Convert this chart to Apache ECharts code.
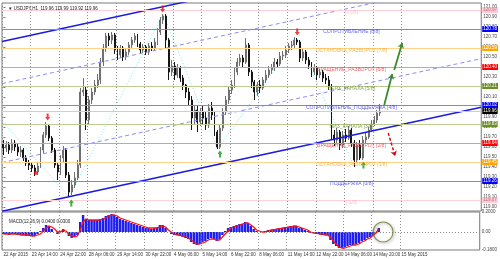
<!DOCTYPE html>
<html><head><meta charset="utf-8">
<script src="https://cdn.jsdelivr.net/npm/echarts@6/dist/echarts.min.js"></script>
<style>html,body{margin:0;padding:0;background:#fff}#c{width:500px;height:259px}</style>
</head><body><div id="c"></div><script>
// ---------------- DATA ----------------
const headerText = '\u25BC USDJPY,H1  119.96 119.99 119.92 119.96';
const macdTitle = 'MACD(12,26,9) 0.0400 0.0300';
const slotCount = 168; // bar slots incl. empty space on the right (chart shift)
// [open, close, low, high]
const candles = [
[119.63,119.59,119.52,119.67],[119.59,119.62,119.55,119.66],[119.62,119.57,119.53,119.65],[119.57,119.64,119.54,119.68],[119.64,119.60,119.56,119.67],
[119.60,119.55,119.51,119.63],[119.55,119.57,119.50,119.61],[119.57,119.49,119.46,119.59],[119.49,119.44,119.41,119.52],[119.44,119.42,119.37,119.47],
[119.42,119.39,119.35,119.45],[119.39,119.35,119.31,119.42],[119.35,119.41,119.32,119.45],[119.41,119.57,119.39,119.60],[119.57,119.72,119.54,119.75],
[119.72,119.81,119.69,119.85],[119.81,119.69,119.66,119.83],[119.69,119.57,119.54,119.71],[119.57,119.42,119.39,119.59],[119.42,119.35,119.27,119.45],
[119.35,119.49,119.32,119.52],[119.49,119.57,119.45,119.61],[119.57,119.32,119.29,119.59],[119.32,119.15,119.10,119.35],[119.15,119.22,119.12,119.27],
[119.22,119.29,119.19,119.35],[119.29,119.42,119.27,119.47],[119.42,120.15,119.39,120.19],[120.15,120.17,120.11,120.29],[120.17,119.87,119.77,120.21],
[119.87,120.07,119.83,120.11],[120.07,120.15,120.03,120.19],[120.15,120.22,120.12,120.27],[120.22,120.27,120.19,120.33],[120.27,120.45,120.23,120.49],
[120.45,120.59,120.41,120.63],[120.59,120.71,120.55,120.74],[120.71,120.67,120.61,120.74],[120.67,120.72,120.63,120.75],[120.72,120.57,120.53,120.74],
[120.57,120.52,120.47,120.61],[120.52,120.59,120.49,120.62],[120.59,120.50,120.46,120.61],[120.50,120.55,120.47,120.59],[120.55,120.62,120.52,120.65],
[120.62,120.67,120.59,120.70],[120.67,120.71,120.64,120.74],[120.71,120.63,120.60,120.73],[120.63,120.57,120.53,120.65],[120.57,120.60,120.54,120.63],
[120.60,120.55,120.52,120.62],[120.55,120.61,120.52,120.64],[120.61,120.59,120.56,120.65],[120.59,120.65,120.57,120.69],[120.65,120.75,120.62,120.79],
[120.75,120.87,120.72,120.90],[120.87,120.91,120.83,120.93],[120.91,120.67,120.59,120.93],[120.67,120.35,120.27,120.69],[120.35,120.41,120.31,120.47],
[120.41,120.32,120.27,120.45],[120.32,120.39,120.29,120.43],[120.39,120.29,120.25,120.41],[120.29,120.22,120.17,120.32],[120.22,120.15,120.09,120.23],
[120.15,120.07,120.01,120.19],[120.07,119.89,119.77,120.11],[119.89,119.97,119.83,120.02],[119.97,119.85,119.75,120.01],[119.85,119.95,119.81,119.99],
[119.95,119.89,119.83,120.01],[119.89,119.82,119.77,119.95],[119.82,119.99,119.79,120.03],[119.99,119.92,119.87,120.05],[119.92,119.75,119.71,119.95],
[119.75,119.60,119.58,119.77],[119.60,119.79,119.58,119.83],[119.79,119.95,119.76,119.99],[119.95,120.07,119.92,120.11],[120.07,120.17,120.03,120.21],
[120.17,120.22,120.13,120.27],[120.22,120.35,120.19,120.39],[120.35,120.45,120.32,120.49],[120.45,120.49,120.41,120.53],[120.49,120.45,120.39,120.52],
[120.45,120.62,120.43,120.69],[120.62,120.35,120.31,120.64],[120.35,120.25,120.19,120.37],[120.25,120.15,120.07,120.27],[120.15,120.22,120.11,120.25],
[120.22,120.19,120.14,120.27],[120.19,120.27,120.17,120.30],[120.27,120.32,120.24,120.37],[120.32,120.37,120.29,120.41],[120.37,120.39,120.33,120.43],
[120.39,120.45,120.36,120.49],[120.45,120.43,120.39,120.48],[120.43,120.51,120.41,120.55],[120.51,120.52,120.47,120.56],[120.52,120.57,120.49,120.61],
[120.57,120.61,120.54,120.64],[120.61,120.62,120.57,120.66],[120.62,120.67,120.59,120.70],[120.67,120.65,120.62,120.69],[120.65,120.49,120.45,120.67],
[120.49,120.55,120.46,120.58],[120.55,120.47,120.43,120.57],[120.47,120.42,120.38,120.50],[120.42,120.35,120.30,120.45],[120.35,120.39,120.32,120.43],
[120.39,120.32,120.27,120.41],[120.32,120.35,120.29,120.38],[120.35,120.29,120.25,120.37],[120.29,120.27,120.23,120.33],[120.27,120.21,120.17,120.31],
[120.21,119.72,119.67,120.23],[119.72,119.67,119.61,119.77],[119.67,119.75,119.64,119.79],[119.75,119.62,119.57,119.77],[119.62,119.72,119.59,119.76],
[119.72,119.69,119.65,119.78],[119.69,119.77,119.67,119.81],[119.77,119.64,119.60,119.79],[119.64,119.47,119.40,119.67],[119.47,119.62,119.45,119.65],
[119.62,119.49,119.47,119.67],[119.49,119.67,119.47,119.71],[119.67,119.70,119.64,119.75],[119.70,119.77,119.68,119.80],[119.77,119.83,119.75,119.87],
[119.83,119.87,119.81,119.91],[119.87,119.94,119.84,119.97],[119.94,119.96,119.91,120.03]
];
const macdMain = [
-0.02,-0.02,-0.03,-0.02,-0.02,-0.03,-0.03,-0.03,-0.04,-0.04,
-0.04,-0.04,-0.02,0.01,0.04,0.07,0.06,0.03,0.00,-0.02,
0.01,0.03,0.00,-0.04,-0.06,-0.05,-0.03,0.10,0.17,0.13,
0.12,0.12,0.12,0.12,0.13,0.14,0.16,0.17,0.18,0.17,
0.15,0.13,0.12,0.11,0.10,0.09,0.08,0.07,0.06,0.05,
0.04,0.04,0.03,0.04,0.05,0.07,0.07,0.04,0.00,-0.02,
-0.03,-0.03,-0.04,-0.05,-0.06,-0.07,-0.10,-0.12,-0.13,-0.12,
-0.10,-0.09,-0.07,-0.06,-0.07,-0.09,-0.07,-0.03,0.01,0.04,
0.05,0.06,0.07,0.08,0.08,0.10,0.09,0.06,0.03,0.01,
0.00,0.00,0.01,0.02,0.02,0.03,0.03,0.04,0.04,0.05,
0.05,0.06,0.06,0.06,0.04,0.04,0.02,0.01,-0.01,-0.01,
-0.02,-0.02,-0.03,-0.03,-0.03,-0.08,-0.12,-0.14,-0.16,-0.16,
-0.15,-0.14,-0.13,-0.13,-0.12,-0.11,-0.09,-0.08,-0.06,-0.05,
-0.04,0.00,0.04
];
const macdSignal = [
-0.02,-0.02,-0.02,-0.02,-0.02,-0.02,-0.03,-0.03,-0.03,-0.03,
-0.04,-0.04,-0.03,-0.02,0.01,0.04,0.06,0.05,0.03,0.00,
0.00,0.02,0.01,-0.02,-0.04,-0.05,-0.04,0.02,0.10,0.13,
0.12,0.12,0.12,0.12,0.12,0.13,0.14,0.16,0.17,0.17,
0.16,0.14,0.13,0.12,0.11,0.10,0.09,0.08,0.07,0.06,
0.05,0.04,0.04,0.04,0.04,0.05,0.06,0.05,0.02,0.00,
-0.02,-0.03,-0.03,-0.04,-0.05,-0.06,-0.08,-0.10,-0.12,-0.12,
-0.11,-0.10,-0.08,-0.07,-0.07,-0.08,-0.08,-0.05,-0.02,0.01,
0.04,0.05,0.06,0.07,0.08,0.09,0.09,0.07,0.05,0.02,
0.01,0.00,0.00,0.01,0.02,0.02,0.03,0.03,0.04,0.04,
0.05,0.05,0.06,0.06,0.05,0.04,0.03,0.02,0.00,-0.01,
-0.01,-0.02,-0.02,-0.03,-0.03,-0.05,-0.09,-0.12,-0.15,-0.16,
-0.16,-0.15,-0.14,-0.13,-0.13,-0.12,-0.10,-0.09,-0.07,-0.06,
-0.03,-0.01,0.03
];
const timeLabels = ['22 Apr 2015','23 Apr 14:00','24 Apr 22:00','28 Apr 06:00','29 Apr 14:00','30 Apr 22:00','4 May 06:00','5 May 14:00','6 May 22:00','8 May 06:00','11 May 14:00','12 May 22:00','14 May 06:00','14 May 20:00','15 May 2015'];
const levelNames = ['[+1/8]','СОПРОТИВЛЕНИЕ [8/8]','ОСТАНОВКА_РАЗВОРОТ [7/8]','ВРАЩЕНИЕ_РАЗВОРОТ [6/8]','ВЕРХ_КАНАЛА [5/8]','СОПРОТИВЛЕНИЕ_ПОДДЕРЖКА [4/8]','НИЗ_КАНАЛА [3/8]','ВРАЩЕНИЕ_РАЗВОРОТ [2/8]','ОСТАНОВКА_РАЗВОРОТ [1/8]','ПОДДЕРЖКА [0/8]','[-1/8]'];
const levelValues = [120.97,120.78,120.59,120.40,120.21,120.02,119.83,119.64,119.45,119.26,119.07];
const levelTextSlot = 122;
const currentPrice = 119.96;
const macdRange = [-0.18, 0.20];
const priceRange = [118.96, 121.04];
// trend channel lines [slot, price]
const channelSolid = [ [[-0.5,120.654],[70,121.09]], [[-0.5,118.957],[167.5,119.998]] ];
const channelDashed = [ [[-0.5,120.234],[140,121.104]], [[-0.5,119.444],[167.5,120.484]] ];
const zigzag = [[-0.5,119.86],[23,119.10],[56,120.93],[75,119.58],[103,120.69],[123,119.40]];
const sellArrows = [[15.5,119.90],[55.8,120.98],[103,120.75]];
const buyArrows = [[23.8,119.04],[75.9,119.53],[126.2,119.42]];
const sellDot = [[11.3,119.34]];
const upProjections = [ [[133.5,120.02],[136.3,120.33]], [[137.0,120.37],[139.8,120.64]] ];
const downProjection = [[134.9,119.74],[137.3,119.51]];
const macdCircle = [[133.5,0.0]];

// ---------------- STYLES ----------------
const levelLineColors = ['#ffd0d8','#8080ff','#ffd48a','#f49090','#bccb92','#8080ff','#bccb92','#f49090','#ffd48a','#8080ff','#ffd0d8'];
const levelBoxColors  = ['#ffc8d2','#0000ff','#ffa500','#ff0000','#6b8e23','#0000ff','#6b8e23','#ff0000','#ffa500','#0000ff','#ffc8d2'];
const levelBoxText    = ['#b07080','#fff','#fff','#fff','#fff','#fff','#fff','#fff','#fff','#fff','#b07080'];
const levelTextColors = ['#ffb0c0','#3c3ce6','#f5a623','#ee3b3b','#6b8e23','#3c3ce6','#6b8e23','#ee3b3b','#f5a623','#3c3ce6','#ffb0c0'];
const FONT = 'Liberation Sans';

const slots = [];
for (let i = 0; i < slotCount; i++) slots.push(String(i));
const gridLineFn = (idx) => idx % 10 === 0 && idx <= 140;

const levelMarks = levelValues.map((v, k) => ({
  yAxis: v,
  lineStyle: {color: levelLineColors[k], width: 1, type: 'solid'},
  label: {show: true, position: 'end', distance: 1, formatter: v.toFixed(2),
    backgroundColor: levelBoxColors[k], color: levelBoxText[k], fontSize: 4.5, fontFamily: FONT, padding: [1, 1, 0, 1]}
}));
levelMarks.push({
  yAxis: currentPrice,
  lineStyle: {color: '#f3c2b4', width: 1, type: 'solid'},
  label: {show: true, position: 'end', distance: 1, formatter: currentPrice.toFixed(2),
    backgroundColor: '#000', color: '#fff', fontSize: 4.5, fontFamily: FONT, padding: [1, 1, 0, 1]}
});

const series = [];
series.push({
  type: 'candlestick', xAxisIndex: 0, yAxisIndex: 0, data: candles, barMaxWidth: 2,
  itemStyle: {color: '#b8b8b8', color0: '#151515', borderColor: '#707070', borderColor0: '#151515', borderWidth: 1},
  markLine: {silent: true, symbol: ['none', 'none'], data: levelMarks, animation: false}
});
channelSolid.forEach(seg => series.push({type: 'line', xAxisIndex: 1, yAxisIndex: 0, data: seg, symbol: 'none', silent: true, clip: true,
  lineStyle: {color: '#1a1ae6', width: 1.5}, z: 3}));
channelDashed.forEach(seg => series.push({type: 'line', xAxisIndex: 1, yAxisIndex: 0, data: seg, symbol: 'none', silent: true, clip: true,
  lineStyle: {color: '#8c8cf5', width: 1, type: [4, 3]}, z: 3}));
series.push({type: 'line', xAxisIndex: 1, yAxisIndex: 0, data: zigzag, symbol: 'none', silent: true, clip: true,
  lineStyle: {color: '#7fe6e6', width: 1, type: [1, 2]}, z: 2});
series.push({type: 'scatter', xAxisIndex: 1, yAxisIndex: 0, data: sellArrows, symbol: 'path://M3,0H7V6H10L5,12L0,6H3Z', symbolSize: [5, 7],
  itemStyle: {color: '#e81010'}, z: 6, silent: true});
series.push({type: 'scatter', xAxisIndex: 1, yAxisIndex: 0, data: buyArrows, symbol: 'path://M5,0L10,6H7V12H3V6H0Z', symbolSize: [5, 7],
  itemStyle: {color: '#139a13'}, z: 6, silent: true});
series.push({type: 'scatter', xAxisIndex: 1, yAxisIndex: 0, data: sellDot, symbol: 'circle', symbolSize: 4,
  itemStyle: {color: '#e81010'}, z: 6, silent: true});
// projections
series.push({type: 'line', xAxisIndex: 1, yAxisIndex: 0, data: [], silent: true,
  markLine: {silent: true, animation: false, symbol: ['none', 'arrow'], symbolSize: 5,
    data: upProjections.map(s => [{coord: s[0], lineStyle: {color: '#3a8a2a', width: 1.8, type: 'solid'}}, {coord: s[1]}])
      .concat([[{coord: downProjection[0], lineStyle: {color: '#d01010', width: 1.5, type: [3, 2]}}, {coord: downProjection[1]}]]),
    label: {show: false}}});
// level texts
series.push({type: 'scatter', xAxisIndex: 1, yAxisIndex: 0, symbolSize: 0, silent: true, z: 7,
  data: levelValues.map((v, k) => ({value: [levelTextSlot, v], name: levelNames[k],
    label: {show: true, position: 'inside', offset: [0, 3], formatter: '{b}', color: levelTextColors[k], fontSize: 5, fontFamily: FONT}}))});
// MACD
series.push({type: 'bar', xAxisIndex: 2, yAxisIndex: 1, data: macdMain, barCategoryGap: '15%',
  itemStyle: {color: '#1e1ef0'}, silent: true,
  markLine: {silent: true, symbol: ['none', 'none'], animation: false, label: {show: false},
    data: [{yAxis: 0, lineStyle: {color: '#8a8a8a', width: 1, type: [1, 2]}}]}});
series.push({type: 'line', xAxisIndex: 2, yAxisIndex: 1, data: macdSignal, symbol: 'none', silent: true,
  lineStyle: {color: '#ff1010', width: 1.3}, z: 4});
series.push({type: 'scatter', xAxisIndex: 3, yAxisIndex: 1, data: macdCircle, symbol: 'circle', symbolSize: 20, silent: true, z: 8,
  itemStyle: {color: 'rgba(255,255,255,0)', borderColor: '#6f7f33', borderWidth: 1.2, shadowBlur: 3, shadowColor: 'rgba(0,0,0,0.45)', shadowOffsetX: 1, shadowOffsetY: 1}});

const splitStyle = {show: true, interval: gridLineFn, lineStyle: {color: '#8f8f8f', width: 1, type: [1, 2]}};

const option = {
  animation: false,
  backgroundColor: '#ffffff',
  textStyle: {fontFamily: FONT},
  title: [
    {text: headerText, left: 3, top: 1, textStyle: {fontSize: 4.5, fontWeight: 'normal', color: '#222', fontFamily: FONT}},
    {text: macdTitle, left: 4, top: 214, textStyle: {fontSize: 4.5, fontWeight: 'normal', color: '#222', fontFamily: FONT}}
  ],
  grid: [
    {left: 2, top: 3, width: 484, height: 208, show: true, borderColor: '#7a7a7a', borderWidth: 1, containLabel: false},
    {left: 2, top: 212, width: 484, height: 38, show: true, borderColor: '#7a7a7a', borderWidth: 1, containLabel: false}
  ],
  xAxis: [
    {type: 'category', gridIndex: 0, data: slots, boundaryGap: true, axisLine: {show: false}, axisTick: {show: false},
      axisLabel: {show: false}, splitLine: splitStyle},
    {type: 'value', gridIndex: 0, min: -0.5, max: slotCount - 0.5, show: false},
    {type: 'category', gridIndex: 1, data: slots, boundaryGap: true, axisLine: {show: false}, axisTick: {show: false},
      axisLabel: {show: true, interval: gridLineFn, formatter: (v, idx) => timeLabels[Math.round(idx / 10)] || '',
        fontSize: 4.5, color: '#333', margin: 2, align: 'left', fontFamily: FONT},
      splitLine: splitStyle},
    {type: 'value', gridIndex: 1, min: -0.5, max: slotCount - 0.5, show: false}
  ],
  yAxis: [
    {type: 'value', gridIndex: 0, position: 'right', min: priceRange[0], max: priceRange[1], splitNumber: 20,
      axisLine: {show: false}, axisTick: {show: true, length: 2, lineStyle: {color: '#777'}}, splitLine: {show: false},
      axisLabel: {fontSize: 4.5, color: '#444', margin: 2, showMinLabel: false, showMaxLabel: false, fontFamily: FONT,
        formatter: v => v.toFixed(2)}},
    {type: 'value', gridIndex: 1, position: 'right', min: macdRange[0], max: macdRange[1], splitNumber: 2,
      axisLine: {show: false}, axisTick: {show: false}, splitLine: {show: false},
      axisLabel: {fontSize: 4.5, color: '#444', margin: 2, fontFamily: FONT,
        formatter: v => (Math.abs(v) < 1e-9 ? '0.00' : v.toFixed(4))}}
  ],
  series: series
};
const chart = echarts.init(document.getElementById('c'), null, {renderer: 'canvas'});
chart.setOption(option);
</script></body></html>
